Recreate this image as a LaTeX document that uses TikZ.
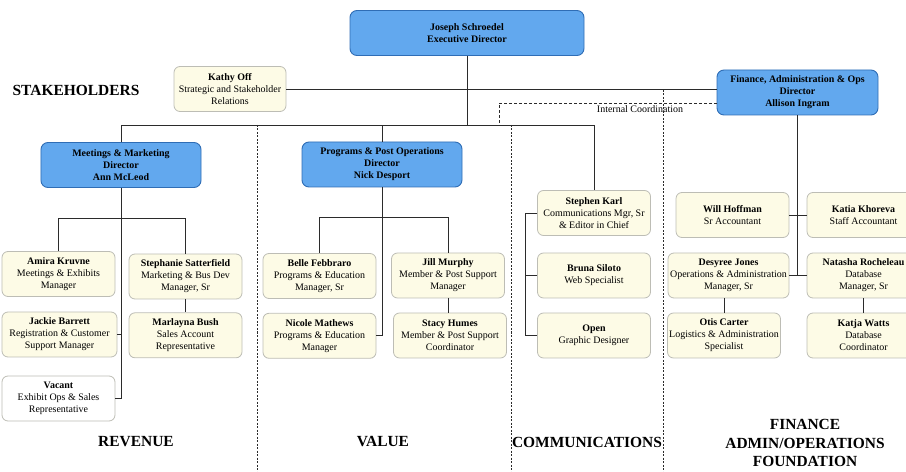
\documentclass[tikz,border=0pt]{standalone}
\usepackage{fontspec}
\setmainfont{Liberation Serif}
\usepackage{tikz}
\usetikzlibrary{positioning,calc}
\definecolor{Sky}{HTML}{62A8EE}
\definecolor{SkyEdge}{HTML}{2F6DB5}
\definecolor{Cream}{HTML}{FDFBE6}
\definecolor{Pebble}{HTML}{BDBDB5}
\definecolor{Ink}{HTML}{2B2B2B}
\tikzset{
  leadbox/.style={draw=SkyEdge, fill=Sky, line width=0.9bp, rounded corners=7bp,
    minimum height=45bp, minimum width=#1, align=center, inner sep=1bp,
    font=\fontsize{10}{12}\selectfont\bfseries},
  leadbox/.default={160bp},
  staffbox/.style={draw=Pebble, fill=#1, line width=0.8bp, rounded corners=6bp,
    minimum width=113bp, minimum height=45bp, align=center, inner sep=1bp,
    font=\fontsize{10}{12}\selectfont},
  staffbox/.default={Cream},
  link/.style={draw=Ink, line width=0.8bp},
  divider/.style={draw=Ink, line width=0.8bp, dash pattern=on 2bp off 1.5bp},
  coordline/.style={draw=Ink, line width=0.7bp, dash pattern=on 3bp off 2bp},
  section/.style={font=\fontsize{15.5}{18.5}\selectfont\bfseries, align=center},
}

\begin{document}
\begin{tikzpicture}[x=1bp, y=-1bp]
  \useasboundingbox (0,0) rectangle (906,472);
  \clip (0,0) rectangle (906,472);

  \node[leadbox=234bp] (exec) at (467,33) {Joseph Schroedel\\Executive Director};
  \node[staffbox, minimum width=112bp] (kathy) at (230,89)
    {\textbf{Kathy Off}\\Strategic and Stakeholder\\Relations};
  \node[leadbox=161bp] (fin) at (797.5,92.5)
    {Finance, Administration \& Ops\\Director\\Allison Ingram};
  \node[leadbox] (meet) at (121,165) {Meetings \& Marketing\\Director\\Ann McLeod};
  \node[leadbox] (prog) at (382,164.5) {Programs \& Post Operations\\Director\\Nick Desport};

  \node[staffbox] (amira) at (58.5,274) {\textbf{Amira Kruvne}\\Meetings \& Exhibits\\Manager};
  \node[staffbox] (steph) at (185.5,276.5)
    {\textbf{Stephanie Satterfield}\\Marketing \& Bus Dev\\Manager, Sr};
  \node[staffbox, minimum width=115bp] (jackie) at (59.5,334.5)
    {\textbf{Jackie Barrett}\\Registration \& Customer\\Support Manager};
  \node[staffbox, below=13bp of steph] (marlayna) {\textbf{Marlayna Bush}\\Sales Account\\Representative};
  \node[staffbox=white] (vacant) at (58.5,398.5)
    {\textbf{Vacant}\\Exhibit Ops \& Sales\\Representative};

  \node[staffbox] (belle) at (319.5,276) {\textbf{Belle Febbraro}\\Programs \& Education\\Manager, Sr};
  \node[staffbox] (jill) at (448,275.5) {\textbf{Jill Murphy}\\Member \& Post Support\\Manager};
  \node[staffbox, below=14bp of belle] (nicole) {\textbf{Nicole Mathews}\\Programs \& Education\\Manager};
  \node[staffbox] (stacy) at (450,335.5) {\textbf{Stacy Humes}\\Member \& Post Support\\Coordinator};

  \node[staffbox] (karl) at (594,213) {\textbf{Stephen Karl}\\Communications Mgr, Sr\\\& Editor in Chief};
  \node[staffbox] (bruna) at (594,275.5) {\textbf{Bruna Siloto}\\Web Specialist};
  \node[staffbox] (open) at (594,335.5) {\textbf{Open}\\Graphic Designer};

  \node[staffbox] (will) at (732.5,215) {\textbf{Will Hoffman}\\Sr Accountant};
  \node[staffbox] (katia) at (863.5,215) {\textbf{Katia Khoreva}\\Staff Accountant};
  \node[staffbox, minimum width=121bp] (desyree) at (728.5,275.5)
    {\textbf{Desyree Jones}\\Operations \& Administration\\Manager, Sr};
  \node[staffbox] (natasha) at (863.5,275.5) {\textbf{Natasha Rocheleau}\\Database\\Manager, Sr};
  \node[staffbox] (otis) at (724,335.5) {\textbf{Otis Carter}\\Logistics \& Administration\\Specialist};
  \node[staffbox] (katja) at (863.5,335.5) {\textbf{Katja Watts}\\Database\\Coordinator};

  \draw[link] (kathy.east) -- (kathy.east -| fin.west);
  \draw[link] (exec.south) -- ++(0,69) coordinate (hub);
  \draw[link] (meet.north) |- (hub) -| (karl.north);
  \draw[link] (prog.north) -- (prog.north |- hub);

  \draw[link] (meet.south) |- (vacant.east);
  \draw[link] (jackie.east) -- (jackie.east -| meet.south);
  \draw[link] (amira.north) |- ($(meet.south)+(0,30)$) -| (steph.north);
  \draw[link] (steph) -- (marlayna);

  \draw[link] (prog.south) |- (nicole.east);
  \draw[link] (belle.north) |- ($(prog.south)+(0,30)$) -| (jill.north);
  \draw[link] (jill.south) -- (jill.south |- stacy.north);

  \draw[link] (karl.west) -- ++(-12,0) coordinate (trunk) |- (open.west);
  \draw[link] (bruna.west) -- (bruna.west -| trunk);

  \draw[link] (fin.south) |- (natasha.west);
  \draw[link] (desyree.east) -- (natasha.west);
  \draw[link] (will.east) -- (katia.west);
  \draw[link] (otis.north) -- (otis.north |- desyree.south);
  \draw[link] (natasha) -- (katja);

  \coordinate (ic) at (499,125);
  \draw[coordline] ($(fin.west)+(0,10.5)$) -| (ic);
  \node[font=\fontsize{10}{12}\selectfont] (iclabel) at (640,109) {Internal Coordination};

  \draw[divider] (257,125) -- (257,472);
  \draw[divider] (511,125) -- (511,472);
  \draw[divider] (663,90) -- (663,472);

  \node[section] (stake) at (76,90) {STAKEHOLDERS};
  \node[section] (revenue) at (136,442) {REVENUE};
  \node[section] (value) at (383,442) {VALUE};
  \node[section] (comms) at (587,442) {COMMUNICATIONS};
  \node[section] (finsec) at (805,443) {FINANCE\\ADMIN/OPERATIONS\\FOUNDATION};
\end{tikzpicture}
\end{document}
